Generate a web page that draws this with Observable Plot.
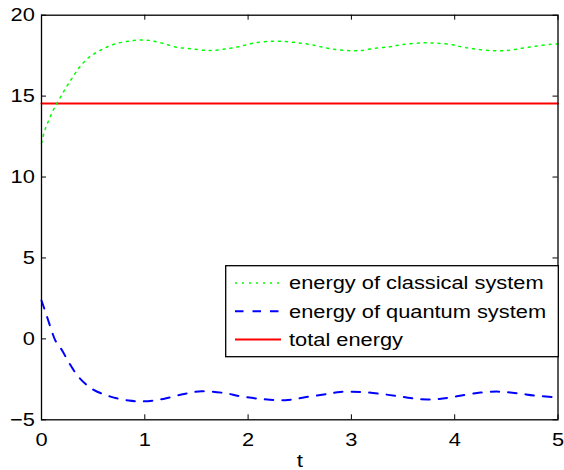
<!DOCTYPE html>
<html>
<head>
<meta charset="utf-8">
<script src="https://cdn.jsdelivr.net/npm/d3@7"></script>
<script src="https://cdn.jsdelivr.net/npm/@observablehq/plot@0.6"></script>
<style>
  html, body { margin: 0; padding: 0; background: #fff; }
  #wrap { position: relative; width: 564px; height: 470px; }
  #wrap svg { position: absolute; left: 0; top: 0; }
</style>
</head>
<body>
<div id="wrap"></div>
<script>
// ---- data ----
const tClassical = [0, 0.03, 0.06, 0.1, 0.14, 0.19, 0.24, 0.3, 0.37, 0.45, 0.56, 0.7, 0.87, 1.02, 1.15, 1.31, 1.46, 1.59, 1.66, 1.79, 1.92, 2.05, 2.21, 2.36, 2.49, 2.62, 2.75, 2.88, 3.01, 3.09, 3.23, 3.36, 3.49, 3.7, 3.83, 3.98, 4.04, 4.18, 4.38, 4.51, 4.65, 4.78, 4.93, 5.0];
const eClassical = [12.1, 12.85, 13.35, 13.95, 14.45, 15.0, 15.55, 16.15, 16.8, 17.35, 17.8, 18.2, 18.42, 18.46, 18.3, 18.02, 17.92, 17.82, 17.82, 17.92, 18.07, 18.27, 18.39, 18.37, 18.29, 18.17, 17.98, 17.86, 17.8, 17.82, 17.96, 18.04, 18.18, 18.29, 18.27, 18.17, 18.08, 17.92, 17.8, 17.82, 17.96, 18.08, 18.2, 18.22];

const tQuantum = [0, 0.055, 0.103, 0.135, 0.2, 0.264, 0.361, 0.49, 0.668, 0.845, 0.99, 1.18, 1.38, 1.55, 1.765, 1.93, 2.15, 2.36, 2.55, 2.77, 2.89, 3.09, 3.31, 3.49, 3.67, 3.85, 4.02, 4.25, 4.43, 4.6, 4.8, 5.0];
const eQuantum = [2.37, 1.34, 0.41, -0.11, -0.72, -1.45, -2.37, -3.09, -3.57, -3.81, -3.86, -3.71, -3.4, -3.24, -3.34, -3.55, -3.73, -3.79, -3.61, -3.4, -3.28, -3.28, -3.42, -3.58, -3.73, -3.71, -3.55, -3.32, -3.26, -3.36, -3.52, -3.61];

const tTotal = [0, 5];
const eTotal = [14.55, 14.55];

const xTicks = [0, 1, 2, 3, 4, 5];
const yTicks = [-5, 0, 5, 10, 15, 20];
const seriesNames = ["energy of classical system", "energy of quantum system", "total energy"];
const seriesColors = ["#00ff00", "#0000ff", "#ff0000"];
const xLabel = "t";

// ---- build ----
const classical = tClassical.map((t, i) => ({t, e: eClassical[i]}));
const quantum = tQuantum.map((t, i) => ({t, e: eQuantum[i]}));
const total = tTotal.map((t, i) => ({t, e: eTotal[i]}));

const W = 564, H = 470;
const mL = 41, mR = 6.5, mT = 14.7, mB = 50.7;
const fw = W - mL - mR, fh = H - mT - mB;
const tick = 5;
const FONT = "'Liberation Sans', Arial, Helvetica, sans-serif";
const SX = 1.18;

const plot = Plot.plot({
  width: W, height: H,
  marginLeft: mL, marginRight: mR, marginTop: mT, marginBottom: mB,
  style: {fontFamily: FONT, fontSize: "18.5px", color: "black", background: "white"},
  x: {domain: [0, 5]},
  y: {domain: [-5, 20]},
  marks: [
    Plot.line(total, {x: "t", y: "e", stroke: seriesColors[2], strokeWidth: 2}),
    Plot.line(quantum, {x: "t", y: "e", stroke: seriesColors[1], strokeWidth: 2, strokeDasharray: "8.5,9", curve: "catmull-rom"}),
    Plot.line(classical, {x: "t", y: "e", stroke: seriesColors[0], strokeWidth: 1.5, strokeDasharray: "2,5", curve: "catmull-rom"}),
    Plot.frame({stroke: "black", strokeWidth: 1.3}),
    Plot.tickX(xTicks, {x: d => d, stroke: "black", insetTop: fh - tick}),
    Plot.tickX(xTicks, {x: d => d, stroke: "black", insetBottom: fh - tick}),
    Plot.tickY(yTicks, {y: d => d, stroke: "black", insetRight: fw - tick}),
    Plot.tickY(yTicks, {y: d => d, stroke: "black", insetLeft: fw - tick}),
    Plot.axisX(xTicks, {tickSize: 0, tickPadding: 12.6, label: null, fontSize: 18.5}),
    Plot.axisY(yTicks, {tickSize: 0, tickPadding: 6.7, label: null, fontSize: 18.5}),
    Plot.text([xLabel], {text: d => d, frameAnchor: "bottom", lineAnchor: "top", dy: 34, fontSize: 19})
  ]
});

// stretch text horizontally about its anchor (the reference's glyphs are wide)
d3.select(plot).selectAll("text").each(function() {
  const tr = this.getAttribute("transform") || "";
  this.setAttribute("transform", `${tr} scale(${SX},1)`);
});

document.getElementById("wrap").appendChild(plot);

// ---- legend (overlay) ----
const leg = d3.select("#wrap").append("svg")
  .attr("width", W).attr("height", H)
  .style("pointer-events", "none");
const lx = 225.7, ly = 265.7, lw = 332.6, lh = 91;
leg.append("rect").attr("x", lx).attr("y", ly).attr("width", lw).attr("height", lh)
  .attr("fill", "white").attr("stroke", "black").attr("stroke-width", 1.3);
const rowY = [283, 311.3, 339.5];
const dashes = ["2,5", "8.5,9", null];
const widths = [1.5, 2, 2];
seriesNames.forEach((name, i) => {
  const l = leg.append("line").attr("x1", 235).attr("x2", 281).attr("y1", rowY[i]).attr("y2", rowY[i])
    .attr("stroke", seriesColors[i]).attr("stroke-width", widths[i]);
  if (dashes[i]) l.attr("stroke-dasharray", dashes[i]);
  leg.append("text").attr("transform", `translate(289,${rowY[i]}) scale(${SX},1)`)
    .attr("dy", "0.35em").attr("font-family", FONT).attr("font-size", 18.5).attr("fill", "black")
    .text(name);
});
</script>
</body>
</html>
